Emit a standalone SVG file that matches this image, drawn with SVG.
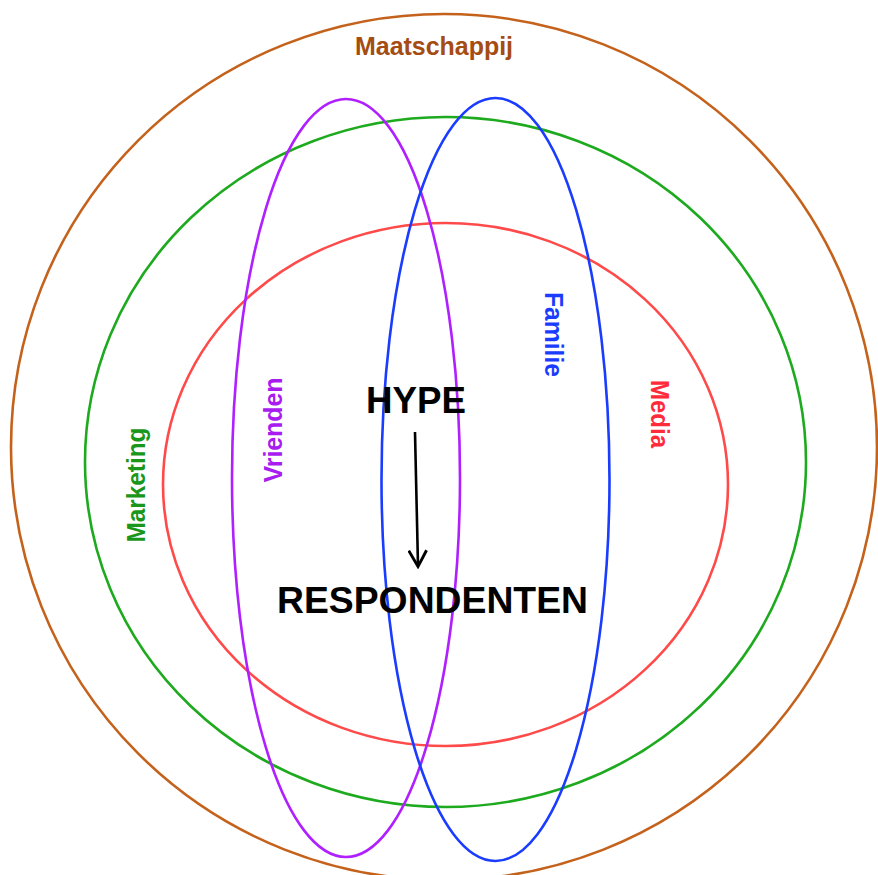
<svg xmlns="http://www.w3.org/2000/svg" width="878" height="875" viewBox="0 0 878 875">
  <style>
    .ring { fill: none; stroke-width: 2.6; }
    .lbl { font-family: "Liberation Sans", Arial, sans-serif; font-weight: bold; text-anchor: middle; }
    .small { font-size: 25px; }
    .big { font-size: 36px; fill: #000; }
  </style>
  <defs>
    <marker id="open-arrow" markerWidth="20" markerHeight="20" refX="15" refY="9" orient="auto" markerUnits="userSpaceOnUse" viewBox="0 0 18 18">
      <path d="M1,1 L15.5,9 L1,17" fill="none" stroke="#000" stroke-width="2.6"/>
    </marker>
  </defs>
  <rect width="878" height="875" fill="#fff"/>

  <g id="maatschappij">
    <ellipse class="ring" cx="444" cy="447" rx="433" ry="433" stroke="#c4621c"/>
    <text class="lbl small" x="434" y="55" fill="#a44c12" textLength="158" lengthAdjust="spacingAndGlyphs">Maatschappij</text>
  </g>

  <g id="marketing">
    <ellipse class="ring" cx="445.5" cy="462" rx="360.5" ry="345" stroke="#1eaa1e"/>
    <text class="lbl small" x="145" y="485" fill="#1a961a" transform="rotate(-90 145 485)" textLength="115" lengthAdjust="spacingAndGlyphs">Marketing</text>
  </g>

  <g id="media">
    <ellipse class="ring" cx="445.5" cy="484.5" rx="282.5" ry="261.5" stroke="#ff4a4a"/>
    <text class="lbl small" x="651" y="414" fill="#ff2a3a" transform="rotate(90 651 414)" textLength="68" lengthAdjust="spacingAndGlyphs">Media</text>
  </g>

  <g id="vrienden">
    <ellipse class="ring" cx="346" cy="478" rx="114" ry="379" stroke="#b020ff"/>
    <text class="lbl small" x="282" y="430" fill="#a81cf0" transform="rotate(-90 282 430)" textLength="105" lengthAdjust="spacingAndGlyphs">Vrienden</text>
  </g>

  <g id="familie">
    <ellipse class="ring" cx="495.5" cy="479.5" rx="114" ry="381.5" stroke="#1a3cff"/>
    <text class="lbl small" x="545" y="334.5" fill="#1a3cff" transform="rotate(90 545 334.5)" textLength="85" lengthAdjust="spacingAndGlyphs">Familie</text>
  </g>

  <g id="hype">
    <text class="lbl big" x="416" y="413" textLength="100" lengthAdjust="spacingAndGlyphs">HYPE</text>
  </g>

  <g id="respondenten">
    <text class="lbl big" x="432.5" y="613" textLength="311" lengthAdjust="spacingAndGlyphs">RESPONDENTEN</text>
  </g>

  <g id="connectors">
    <line x1="415" y1="432" x2="418" y2="566" stroke="#000" stroke-width="2.6" marker-end="url(#open-arrow)"/>
  </g>
</svg>
